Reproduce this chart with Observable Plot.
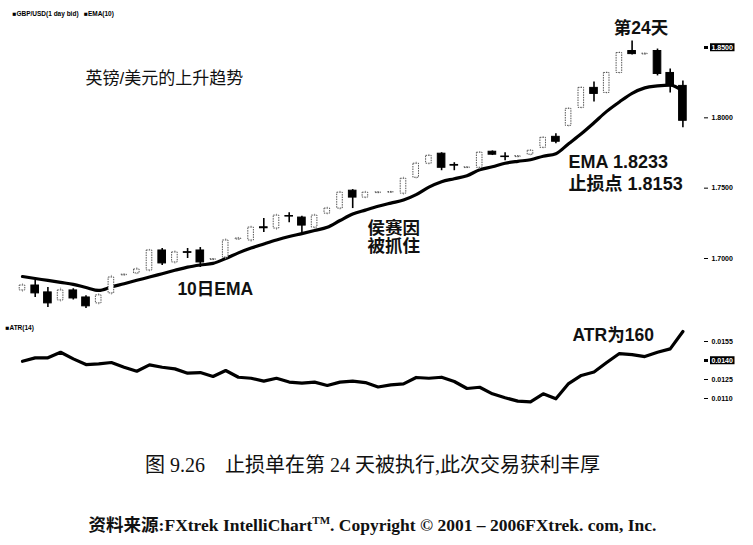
<!DOCTYPE html>
<html><head><meta charset="utf-8">
<script src="https://cdn.jsdelivr.net/npm/d3@7"></script>
<script src="https://cdn.jsdelivr.net/npm/@observablehq/plot@0.6"></script>
<style>
body{margin:0;background:#fff;}
#wrap{position:relative;width:753px;height:545px;overflow:hidden;background:#fff;}
#price{position:absolute;left:0;top:0;}
#atr{position:absolute;left:0;top:315px;}
.cap{position:absolute;left:0;width:753px;text-align:center;font-family:"Liberation Serif","Noto Sans CJK SC",serif;color:#111;line-height:22px;white-space:pre;}
</style></head><body>
<div id="wrap"><div id="price"></div><div id="atr"></div>
<div class="cap" style="top:454px;font-size:20px;left:-4px;">图 9.26    止损单在第 24 天被执行,此次交易获利丰厚</div>
<div class="cap" style="top:509px;font-size:17.5px;font-weight:bold;left:-4px;">资料来源:FXtrek IntelliChart<sup style="font-size:11px">TM</sup>. Copyright © 2001 – 2006FXtrek. com, Inc.</div>
</div>
<script>
const days = d3.range(1, 54);
const open = [1.6773,1.6808,1.6759,1.6702,1.6773,1.6723,1.6681,1.6752,1.6880,1.6894,
1.6915,1.7057,1.6972,1.7045,1.7057,1.6990,1.7007,1.7135,1.7128,1.7222,
1.7213,1.7302,1.7291,1.7220,1.7319,1.7355,1.7482,1.7433,1.7465,1.7468,
1.7461,1.7574,1.7674,1.7745,1.7665,1.7643,1.7645,1.7759,1.7725,1.7721,
1.7738,1.7787,1.7865,1.7943,1.8071,1.8213,1.8177,1.8319,1.8475,1.8451,
1.8475,1.8319,1.8227];
const high = [1.6820,1.6844,1.6794,1.6790,1.6785,1.6735,1.6750,1.6880,1.6890,1.6935,
1.7065,1.7071,1.7055,1.7071,1.7078,1.7000,1.7140,1.7150,1.7230,1.7284,
1.7315,1.7326,1.7300,1.7315,1.7365,1.7478,1.7490,1.7478,1.7475,1.7478,
1.7578,1.7685,1.7740,1.7752,1.7681,1.7652,1.7760,1.7765,1.7752,1.7732,
1.7774,1.7866,1.7887,1.8072,1.8220,1.8255,1.8326,1.8468,1.8546,1.8460,
1.8489,1.8348,1.8262];
const low = [1.6760,1.6723,1.6652,1.6690,1.6705,1.6645,1.6670,1.6740,1.6875,1.6885,
1.6905,1.6950,1.6960,1.7000,1.6936,1.6985,1.6995,1.7130,1.7115,1.7185,
1.7200,1.7255,1.7163,1.7210,1.7310,1.7345,1.7355,1.7425,1.7460,1.7462,
1.7450,1.7565,1.7665,1.7624,1.7624,1.7640,1.7635,1.7732,1.7695,1.7716,
1.7730,1.7780,1.7816,1.7935,1.8064,1.8113,1.8170,1.8312,1.8446,1.8445,
1.8298,1.8177,1.7929];
const close = [1.6808,1.6752,1.6681,1.6773,1.6716,1.6660,1.6738,1.6865,1.6885,1.6922,
1.7057,1.6965,1.7043,1.7040,1.6972,1.6995,1.7128,1.7142,1.7220,1.7215,
1.7305,1.7298,1.7234,1.7305,1.7355,1.7468,1.7433,1.7468,1.7470,1.7472,
1.7567,1.7674,1.7730,1.7645,1.7660,1.7648,1.7752,1.7738,1.7721,1.7727,
1.7766,1.7858,1.7830,1.8064,1.8213,1.8170,1.8319,1.8461,1.8453,1.8456,
1.8312,1.8227,1.7979];
const ema = [1.6872,1.6858,1.6844,1.6830,1.6816,1.6794,1.6773,1.6798,1.6821,1.6845,
1.6868,1.6892,1.6916,1.6939,1.6954,1.6965,1.7000,1.7040,1.7074,1.7103,
1.7131,1.7156,1.7177,1.7199,1.7222,1.7270,1.7316,1.7344,1.7371,1.7394,
1.7416,1.7454,1.7507,1.7546,1.7567,1.7589,1.7631,1.7652,1.7677,1.7691,
1.7702,1.7727,1.7745,1.7816,1.7887,1.7965,1.8046,1.8113,1.8174,1.8213,
1.8227,1.8233,1.8191];
const atr = [0.01394,0.01421,0.01421,0.01465,0.01413,0.01368,0.01374,0.01384,0.01347,0.01315,
0.01366,0.01347,0.01334,0.01300,0.01305,0.01274,0.01321,0.01268,0.01260,0.01237,
0.01260,0.01230,0.01221,0.01229,0.01203,0.01229,0.01237,0.01226,0.01191,0.01207,
0.01216,0.01266,0.01260,0.01268,0.01234,0.01179,0.01189,0.01137,0.01106,0.01079,
0.01074,0.01137,0.01098,0.01218,0.01282,0.01309,0.01384,0.01455,0.01447,0.01431,
0.01465,0.01492,0.01629];
const priceTicks = [1.70, 1.75, 1.80, 1.85];
const atrTicks = [0.0110, 0.0125, 0.0140, 0.0155];
const priceHighlight = "1.8500";
const atrHighlight = "0.0140";
const legendPrice = "■GBP/USD(1 day bid)   ■EMA(10)";
const legendAtr = "■ATR(14)";
const title = "英镑/美元的上升趋势";

const table = days.map((day, k) => ({day, open: open[k], high: high[k], low: low[k], close: close[k], ema: ema[k], atr: atr[k]}));
const up = table.filter(d => d.close >= d.open);
const down = table.filter(d => d.close < d.open);

const W = 753;
const font = '"Liberation Sans","Noto Sans CJK SC",sans-serif';
const xScale = {type: "linear", domain: [1, 53], range: [22, 682.4], axis: null};
const ann = {fontSize: 17.5, fontWeight: "bold", fill: "#111"};

const price = Plot.plot({
  width: W, height: 315, marginLeft: 0, marginRight: 50, marginTop: 0, marginBottom: 0,
  style: {fontFamily: font, background: "white", overflow: "visible"},
  x: xScale,
  y: {domain: [1.70, 1.85], range: [258, 47]},
  marks: [
    Plot.axisY(priceTicks, {anchor: "right", label: null, tickFormat: d3.format(".4f"), tickSize: 4, tickPadding: 4, fontSize: 7, fontWeight: "bold"}),
    Plot.line(table, {x: "day", y: "ema", stroke: "#000", strokeWidth: 3.2, curve: "monotone-x"}),
    Plot.ruleX(up, {x: "day", y1: "low", y2: "high", stroke: "#aaa", strokeWidth: 1}),
    Plot.rect(up, {x1: d => d.day - 0.22, x2: d => d.day + 0.22, y1: "open", y2: "close", fill: "white", stroke: "#555", strokeWidth: 1, strokeDasharray: "1.5,1"}),
    Plot.ruleX(down, {x: "day", y1: "low", y2: "high", stroke: "#000", strokeWidth: 1.6}),
    Plot.rect(down, {x1: d => d.day - 0.3, x2: d => d.day + 0.3, y1: "open", y2: "close", fill: "#000", stroke: "#000", strokeWidth: 1}),
    Plot.text([legendPrice], {text: d => d, frameAnchor: "top-left", dx: 12, dy: 13, textAnchor: "start", lineAnchor: "middle", fontSize: 6.5, fontWeight: "bold"}),
    Plot.text([title], {text: d => d, frameAnchor: "top-left", dx: 85, dy: 78, textAnchor: "start", lineAnchor: "middle", fontSize: 17, fill: "#111"}),
    Plot.text([table[48]], {x: "day", y: "high", text: () => "第24天", dx: 9, dy: -13, lineAnchor: "middle", ...ann}),
    Plot.text([table[14]], {x: "day", y: "ema", text: () => "10日EMA", dx: 15, dy: 24.5, lineAnchor: "middle", ...ann}),
    Plot.text([table[29]], {x: "day", y: "ema", text: () => "侯赛因\n被抓住", dx: 3, dy: 34.5, lineAnchor: "middle", lineHeight: 1.03, ...ann}),
    Plot.text([table[43]], {x: "day", y: "ema", text: () => "EMA 1.8233\n止损点 1.8153", dx: 0, dy: 28, textAnchor: "start", lineAnchor: "middle", lineHeight: 1.22, ...ann, fontSize: 18})
  ]
});

const atrPlot = Plot.plot({
  width: W, height: 105, marginLeft: 0, marginRight: 50, marginTop: 0, marginBottom: 0,
  style: {fontFamily: font, background: "white", overflow: "visible"},
  x: xScale,
  y: {domain: [0.0110, 0.0155], range: [83, 26]},
  marks: [
    Plot.axisY(atrTicks, {anchor: "right", label: null, tickFormat: d3.format(".4f"), tickSize: 4, tickPadding: 4, fontSize: 7, fontWeight: "bold"}),
    Plot.line(table, {x: "day", y: "atr", stroke: "#000", strokeWidth: 3.2}),
    Plot.text([legendAtr], {text: d => d, frameAnchor: "top-left", dx: 5, dy: 12, textAnchor: "start", lineAnchor: "middle", fontSize: 6.5, fontWeight: "bold"}),
    Plot.text([table[52]], {x: "day", y: "atr", text: () => "ATR为160", dx: -29, dy: 4, textAnchor: "end", lineAnchor: "middle", ...ann})
  ]
});

document.getElementById("price").append(price);
document.getElementById("atr").append(atrPlot);

function highlight(svg, label) {
  const texts = [...svg.querySelectorAll('g[aria-label="y-axis tick label"] text')];
  const ticks = [...svg.querySelectorAll('g[aria-label="y-axis tick"] path')];
  texts.forEach((t, i) => {
    if (t.textContent !== label) return;
    const b = t.getBBox();
    const r = document.createElementNS("http://www.w3.org/2000/svg", "rect");
    r.setAttribute("x", b.x - 1.5);
    r.setAttribute("y", b.y - 0.5);
    r.setAttribute("width", b.width + 3);
    r.setAttribute("height", b.height + 1);
    r.setAttribute("fill", "#000");
    const tr = t.getAttribute("transform");
    if (tr) r.setAttribute("transform", tr);
    t.parentNode.insertBefore(r, t);
    t.setAttribute("fill", "#fff");
    t.style.fill = "#fff";
    if (ticks[i]) ticks[i].setAttribute("stroke-width", 3);
  });
}
highlight(price, priceHighlight);
highlight(atrPlot, atrHighlight);
</script>
</body></html>
